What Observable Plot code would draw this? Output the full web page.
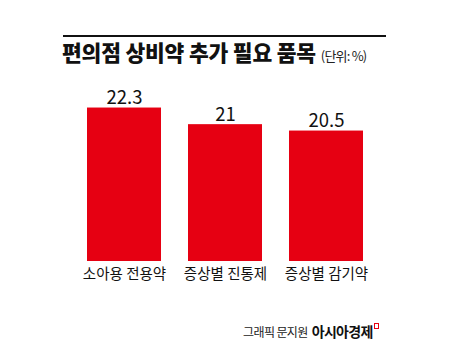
<!DOCTYPE html>
<html><head><meta charset="utf-8">
<script src="https://cdn.jsdelivr.net/npm/d3@7"></script>
<script src="https://cdn.jsdelivr.net/npm/@observablehq/plot@0.6"></script>
<style>
body{margin:0;background:#fff;font-family:"Noto Sans CJK KR","Noto Sans",sans-serif;}
#wrap{position:relative;width:450px;height:359px;overflow:hidden;}
#rule{position:absolute;left:63px;top:35px;width:323px;height:2px;background:#111;}
#title{position:absolute;left:62px;top:36px;font-size:21.5px;font-weight:900;letter-spacing:-0.2px;color:#111;white-space:nowrap;}
#title span{font-size:13px;font-weight:400;letter-spacing:-0.8px;margin-left:5px;color:#222;}
#chart{position:absolute;left:0;top:0;}
#foot{position:absolute;left:243px;top:318px;white-space:nowrap;color:#222;}
#foot .a{font-size:12px;letter-spacing:-0.6px;}
#foot .b{font-size:14px;font-weight:700;letter-spacing:-0.7px;margin-left:4px;color:#111;}
#foot .m{display:inline-block;width:3px;height:4px;border:1px solid #e60012;margin-left:1px;vertical-align:8px;}
</style></head>
<body><div id="wrap">
<div id="rule"></div>
<div id="title">편의점 상비약 추가 필요 품목<span>(단위: %)</span></div>
<div id="chart"></div>
<div id="foot"><span class="a">그래픽 문지원</span><span class="b">아시아경제</span><span class="m"></span></div>
</div>
<script>
const categories = ["소아용 전용약", "증상별 진통제", "증상별 감기약"];
const values = [22.3, 21, 20.5];
const valueLabels = ["22.3", "21", "20.5"];
const baseline = 10.3;

const data = categories.map((c, i) => ({cat: c, v: values[i], label: valueLabels[i]}));

const chart = Plot.plot({
  width: 450,
  height: 359,
  marginLeft: 86,
  marginRight: 87,
  marginTop: 73,
  marginBottom: 98,
  style: {fontFamily: '"Noto Sans CJK KR", sans-serif', background: "transparent"},
  x: {domain: categories, paddingInner: 0.27, paddingOuter: 0, label: null},
  y: {domain: [baseline, 25], axis: null},
  marks: [
    Plot.barY(data, {x: "cat", y1: baseline, y2: "v", fill: "#e60012"}),
    Plot.text(data, {x: "cat", y: "v", text: "label", lineAnchor: "bottom", dy: -4, fontSize: 18.5, fill: "#111", style: {letterSpacing: "-0.5px"}}),
    Plot.axisX({tickSize: 0, tickPadding: 7, fontSize: 14.5, fill: "#111", label: null})
  ]
});
document.getElementById("chart").appendChild(chart);
</script>
</body></html>
